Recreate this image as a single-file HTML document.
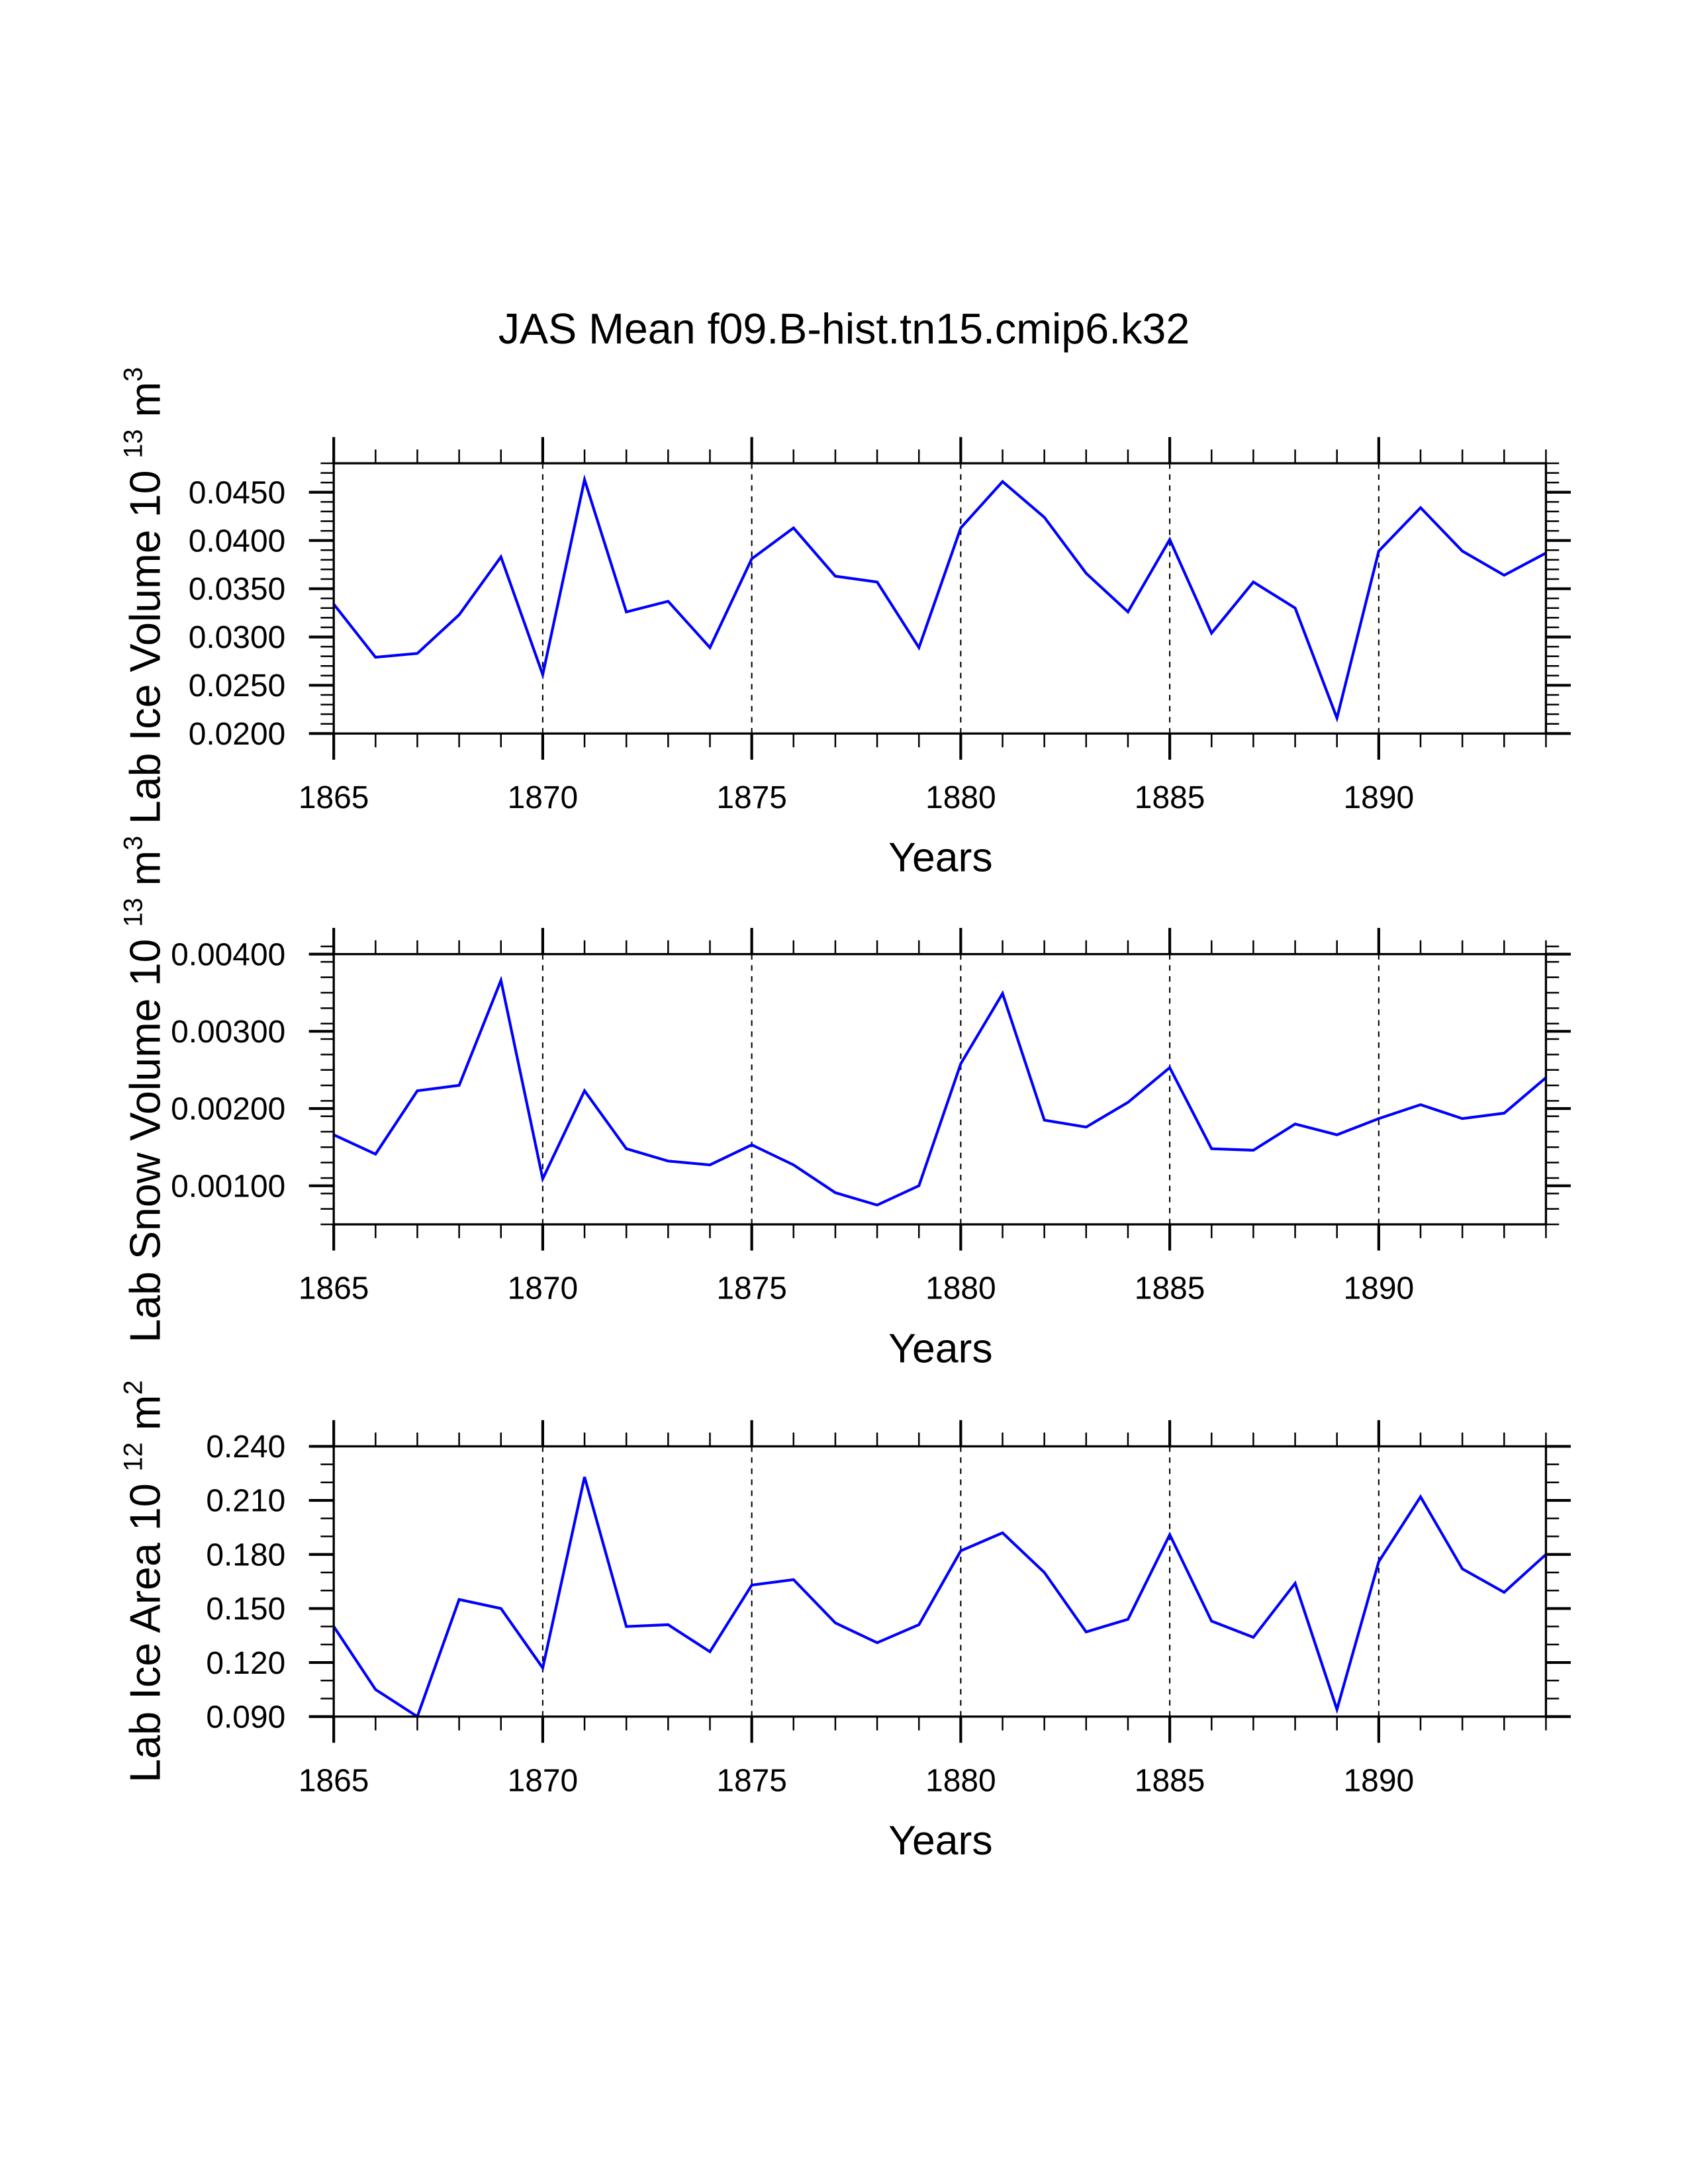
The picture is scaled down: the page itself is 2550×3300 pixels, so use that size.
<!DOCTYPE html>
<html><head><meta charset="utf-8"><style>
html,body{margin:0;padding:0;background:#fff;}
svg{display:block;font-family:"Liberation Sans",Arial,sans-serif;}
</style></head><body>
<svg id="chart" width="2550" height="3300" viewBox="0 0 1224 1584" xmlns="http://www.w3.org/2000/svg">
<text x="612" y="249" font-size="31" text-anchor="middle">JAS Mean f09.B-hist.tn15.cmip6.k32</text>
</svg>
<script>
const years = [1865,1866,1867,1868,1869,1870,1871,1872,1873,1874,1875,1876,1877,1878,1879,1880,1881,1882,1883,1884,1885,1886,1887,1888,1889,1890,1891,1892,1893,1894];
const iceVolume = [0.0334,0.0279,0.0283,0.0323,0.0383,0.0261,0.0463,0.0326,0.0337,0.0289,0.0381,0.0413,0.0363,0.0357,0.0289,0.0413,0.0461,0.0424,0.0366,0.0326,0.0401,0.0304,0.0357,0.0330,0.0216,0.0389,0.0434,0.0389,0.0364,0.0387];
const snowVolume = [0.00166,0.00141,0.00223,0.00230,0.00366,0.00109,0.00223,0.00148,0.00132,0.00127,0.00153,0.00127,0.00091,0.00075,0.00100,0.00258,0.00349,0.00185,0.00176,0.00208,0.00253,0.00148,0.00146,0.00180,0.00166,0.00187,0.00205,0.00187,0.00194,0.00240];
const iceArea = [0.140,0.105,0.090,0.155,0.150,0.117,0.223,0.140,0.141,0.126,0.163,0.166,0.142,0.131,0.141,0.182,0.192,0.170,0.137,0.144,0.191,0.143,0.134,0.164,0.094,0.176,0.212,0.172,0.159,0.180];
const xTickLabels = ["1865","1870","1875","1880","1885","1890"];
const iceVolTicks = ["0.0200","0.0250","0.0300","0.0350","0.0400","0.0450"];
const snowTicks = ["0.00100","0.00200","0.00300","0.00400"];
const areaTicks = ["0.090","0.120","0.150","0.180","0.210","0.240"];

const NS="http://www.w3.org/2000/svg";
const svg=document.getElementById('chart');
const X0=242,X1=1121,YR0=1865,YR1=1894;
function xs(v){return X0+(v-YR0)/(YR1-YR0)*(X1-X0);}
function mk(tag,attrs,parent){const e=document.createElementNS(NS,tag);for(const k in attrs)e.setAttribute(k,attrs[k]);(parent||svg).appendChild(e);return e;}

function panel(name,top,bot,ymin,ymax,values,ticks,minorStep,labelParts,labelY){
  const g=mk('g',{});
  
  
  function ys(v){return bot-(v-ymin)/(ymax-ymin)*(bot-top);}
  for(let yr=1870;yr<=1890;yr+=5){
    const l=mk('line',{x1:xs(yr),x2:xs(yr),y1:top,y2:bot,stroke:'#000','stroke-width':1,'stroke-dasharray':'4,4'},g);
    
    
  }
  const pts=values.map((v,i)=>xs(years[i]).toFixed(2)+','+ys(v).toFixed(2)).join(' ');
  const pl=mk('polyline',{points:pts,fill:'none',stroke:'#0000ff','stroke-width':2,'stroke-linejoin':'miter'},g);
  
  
  const fr=mk('rect',{x:X0,y:top,width:X1-X0,height:bot-top,fill:'none',stroke:'#000','stroke-width':1.6},g);
  
  
  for(let yr=YR0;yr<=YR1;yr++){
    const maj=(yr%5===0);const len=maj?19:10;const w=maj?2:1.2;
    mk('line',{x1:xs(yr),x2:xs(yr),y1:top-len,y2:top,stroke:'#000','stroke-width':w},g);
    mk('line',{x1:xs(yr),x2:xs(yr),y1:bot,y2:bot+len,stroke:'#000','stroke-width':w},g);
  }
  xTickLabels.forEach(t=>{
    const tx=mk('text',{x:xs(+t),y:bot+54,'font-size':23,'text-anchor':'middle'},g);
    tx.textContent=t;
    
    
  });
  const n=Math.round((ymax-ymin)/minorStep);
  for(let i=0;i<=n;i++){
    const v=ymin+i*minorStep;const y=ys(v);
    mk('line',{x1:X0-9.5,x2:X0,y1:y,y2:y,stroke:'#000','stroke-width':1.2},g);
    mk('line',{x1:X1,x2:X1+9.5,y1:y,y2:y,stroke:'#000','stroke-width':1.2},g);
  }
  ticks.forEach(t=>{
    const y=ys(parseFloat(t));
    mk('line',{x1:X0-18,x2:X0,y1:y,y2:y,stroke:'#000','stroke-width':2},g);
    mk('line',{x1:X1,x2:X1+18,y1:y,y2:y,stroke:'#000','stroke-width':2},g);
    const tx=mk('text',{x:207,y:y+8,'font-size':23,'text-anchor':'end'},g);
    tx.textContent=t;
    
    
  });
  const xt=mk('text',{x:682,y:bot+100,'font-size':30,'text-anchor':'middle'},g);
  xt.textContent='Years';
  
  
  const yt=mk('text',{x:0,y:0,'font-size':31,'text-anchor':'middle',transform:'translate(116,'+labelY+') rotate(-90)'},g);
  
  
  const a=mk('tspan',{},yt);a.textContent=labelParts[0]+' ';
  const b=mk('tspan',{dy:-13,'font-size':19},yt);b.textContent=labelParts[1];
  const c=mk('tspan',{dy:13},yt);c.textContent=' m';
  const d=mk('tspan',{dy:-13,'font-size':19},yt);d.textContent=labelParts[2];
}
panel('ice-volume',336,532,0.0200,0.0480,iceVolume,iceVolTicks,0.001,['Lab Ice Volume 10','13','3'],432);
panel('snow-volume',692,888,0.0005,0.0040,snowVolume,snowTicks,0.0002,['Lab Snow Volume 10','13','3'],790);
panel('ice-area',1049,1245,0.090,0.240,iceArea,areaTicks,0.01,['Lab Ice Area 10','12','2'],1147);
</script>
</body></html>
